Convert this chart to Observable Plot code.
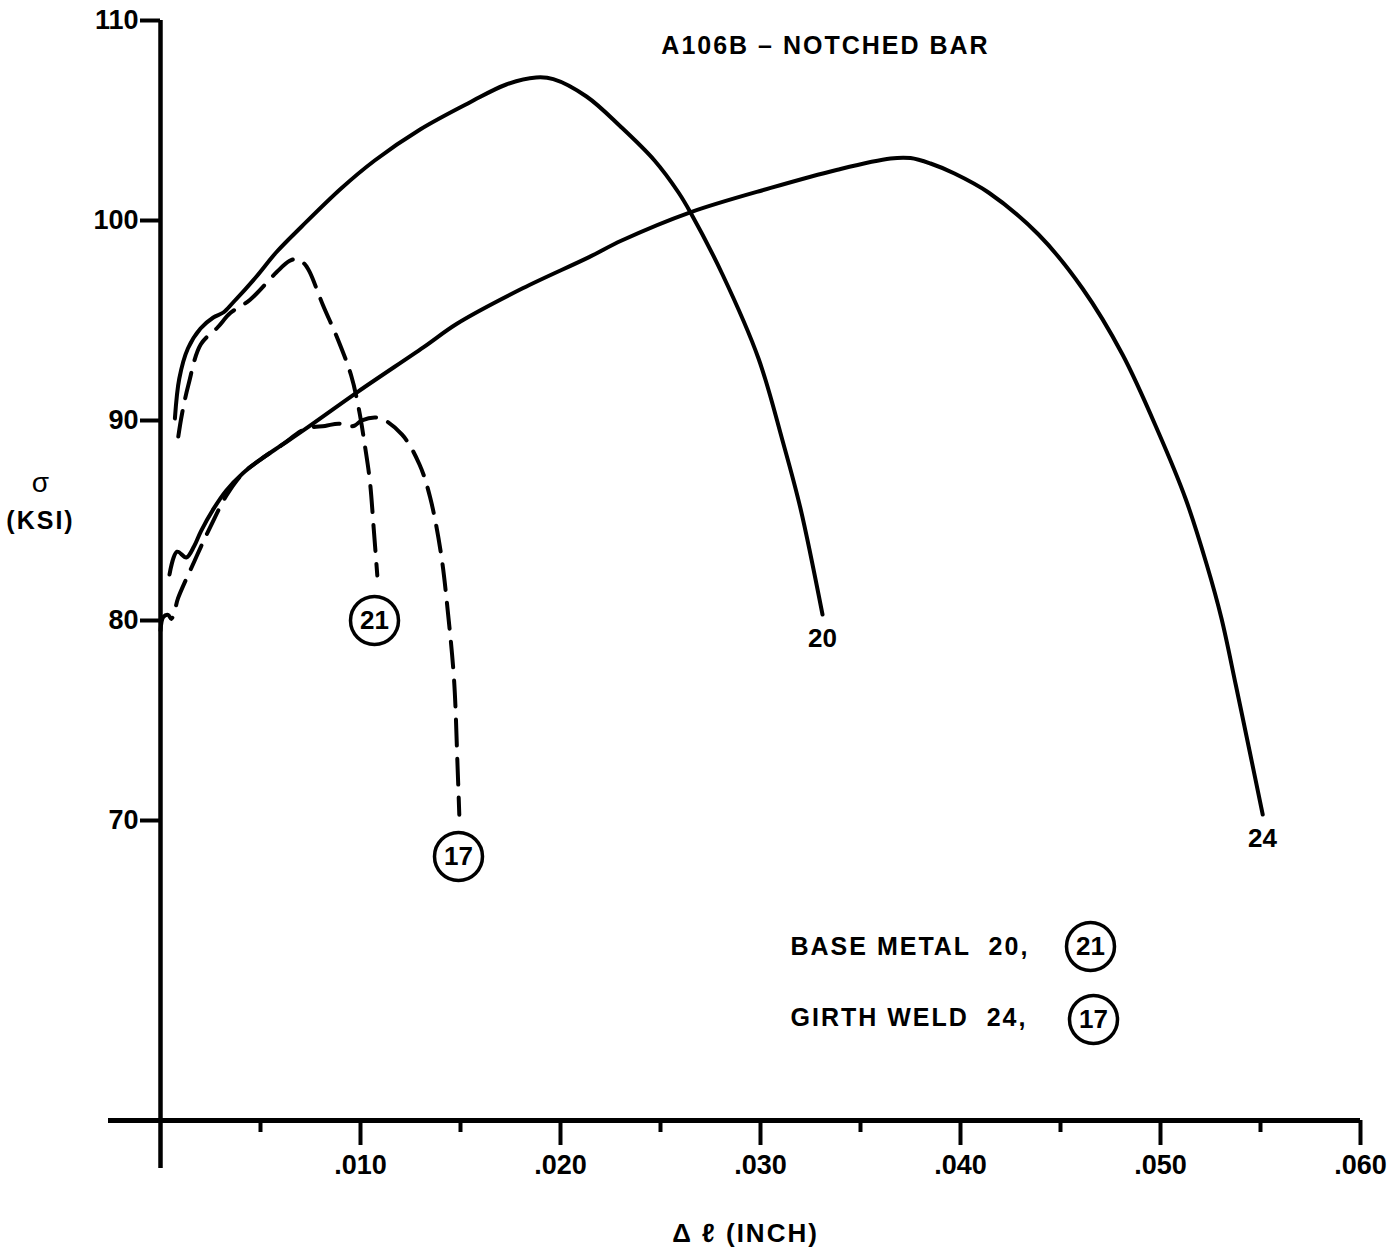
<!DOCTYPE html>
<html><head><meta charset="utf-8">
<script src="https://cdn.jsdelivr.net/npm/d3@7"></script>
<script src="https://cdn.jsdelivr.net/npm/@observablehq/plot@0.6"></script>
<style>body{margin:0;background:#fff}</style>
</head><body><div id="chart"></div>
<script>
// Δℓ (inch), σ (ksi) pairs
const base20 = [[0.00072,90.1],[0.00094,92.1],[0.00137,93.6],[0.0020,94.6],[0.00264,95.15],[0.00314,95.4],[0.00363,95.9],[0.0048,97.2],[0.00578,98.4],[0.00706,99.7],[0.00903,101.6],[0.01071,103.0],[0.01298,104.55],[0.01546,105.9],[0.01729,106.8],[0.01878,107.15],[0.01964,107.07],[0.0213,106.2],[0.0230,104.7],[0.0247,103.0],[0.0259,101.4],[0.0265,100.4],[0.0281,97.3],[0.0299,93.1],[0.0311,89.0],[0.0320,85.6],[0.0331,80.3]];
const base21 = [[0.00089,89.2],[0.00107,90.3],[0.0014,91.8],[0.00201,93.8],[0.00285,94.65],[0.00349,95.37],[0.00448,96.04],[0.0058,97.41],[0.00644,97.97],[0.00684,98.08],[0.00719,97.84],[0.00745,97.44],[0.00813,95.75],[0.00885,94.1],[0.00953,92.26],[0.00991,90.61],[0.01024,88.61],[0.01047,86.96],[0.01066,84.61],[0.01084,82.25]];
const weld24 = [[0.00045,82.3],[0.00083,83.44],[0.00129,83.15],[0.00168,83.71],[0.00202,84.46],[0.00265,85.58],[0.00328,86.49],[0.00412,87.36],[0.00496,88.02],[0.00609,88.79],[0.00723,89.57],[0.0099,91.46],[0.01316,93.67],[0.01484,94.85],[0.01811,96.61],[0.02143,98.17],[0.02306,99.0],[0.02649,100.41],[0.03051,101.63],[0.03385,102.54],[0.0365,103.1],[0.0375,103.12],[0.0385,102.85],[0.0397,102.35],[0.0414,101.4],[0.0439,99.3],[0.0461,96.6],[0.0481,93.3],[0.0499,89.4],[0.05125,86.1],[0.05231,82.8],[0.05305,80.1],[0.05376,76.8],[0.05446,73.45],[0.05511,70.3]];
const weld17 = [[0.0000,79.5],[0.00014,80.17],[0.00038,80.28],[0.00054,80.08],[0.00073,80.58],[0.00087,81.09],[0.0013,82.1],[0.00169,82.95],[0.00203,83.71],[0.00251,84.72],[0.00329,86.24],[0.00412,87.36],[0.00496,88.02],[0.00609,88.79],[0.00723,89.57],[0.00823,89.73],[0.00893,89.84],[0.00943,89.7],[0.00973,89.76],[0.01007,90.01],[0.01092,90.13],[0.01208,89.29],[0.01295,87.8],[0.01348,86.16],[0.01403,83.31],[0.01438,80.31],[0.01468,77.0],[0.01485,72.79],[0.01494,70.29]];

const yTicks = [70, 80, 90, 100, 110];
const xMajorTicks = [0.01, 0.02, 0.03, 0.04, 0.05, 0.06];
const xMinorTicks = [0.005, 0.015, 0.025, 0.035, 0.045, 0.055];

// curve end labels
const plainLabels = [{t:"20", x:0.0331, y:79.1}, {t:"24", x:0.0551, y:69.1}];
const circledLabels = [{t:"21", x:0.0107, y:80.0}, {t:"17", x:0.0149, y:68.2}, {t:"21", x:0.0465, y:63.7}, {t:"17", x:0.04665, y:60.05}];
const legendLines = [{t:"BASE METAL  20,", x:0.0315, y:63.7}, {t:"GIRTH WELD  24,", x:0.0315, y:60.15}];
const title = "A106B – NOTCHED BAR";

const F = "Liberation Sans, Arial, sans-serif";
const fmt = d => "." + String(Math.round(d * 1000)).padStart(3, "0");
const px = d => d[0], py = d => d[1];

const chart = Plot.plot({
  width: 1400, height: 1252,
  marginLeft: 160, marginRight: 40, marginTop: 20, marginBottom: 132,
  style: {fontFamily: F, color: "#000", background: "#fff"},
  x: {domain: [0, 0.06]},
  y: {domain: [55, 110]},
  marks: [
    Plot.ruleX([0], {y1: 52.6, y2: 110, strokeWidth: 4.5}),
    Plot.ruleY([55], {x1: -0.0026, x2: 0.06, strokeWidth: 5}),
    Plot.ruleY(yTicks, {x1: -0.001, x2: 0, strokeWidth: 4}),
    Plot.ruleX(xMajorTicks, {y1: 55, y2: 53.75, strokeWidth: 4}),
    Plot.ruleX(xMinorTicks, {y1: 55, y2: 54.4, strokeWidth: 4}),
    Plot.axisY(yTicks, {tickSize: 0, tickPadding: 22, fontSize: 27, fontWeight: "bold", label: null}),
    Plot.axisX(xMajorTicks, {tickSize: 0, tickPadding: 34, fontSize: 27, fontWeight: "bold", tickFormat: fmt, label: null}),
    Plot.line(base20, {x: px, y: py, strokeWidth: 4, curve: "catmull-rom"}),
    Plot.line(weld24, {x: px, y: py, strokeWidth: 4, curve: "catmull-rom"}),
    Plot.line(base21, {x: px, y: py, strokeWidth: 4, strokeDasharray: "26,13", curve: "catmull-rom"}),
    Plot.line(weld17, {x: px, y: py, strokeWidth: 4, strokeDasharray: "26,13", curve: "catmull-rom"}),
    Plot.text(plainLabels, {x: "x", y: "y", text: "t", fontSize: 26, fontWeight: "bold"}),
    Plot.dot(circledLabels, {x: "x", y: "y", r: 24, stroke: "#000", strokeWidth: 3.5, fill: "#fff"}),
    Plot.text(circledLabels, {x: "x", y: "y", text: "t", fontSize: 26, fontWeight: "bold"}),
    Plot.text(legendLines, {x: "x", y: "y", text: "t", fontSize: 25, fontWeight: "bold", textAnchor: "start"}),
    Plot.text([title], {x: 0.03325, y: 108.75, text: d => d, fontSize: 25, fontWeight: "bold"}),
    Plot.text(["σ"], {x: -0.006, y: 86.85, text: d => d, fontSize: 28}),
    Plot.text(["(KSI)"], {x: -0.006, y: 85.0, text: d => d, fontSize: 25, fontWeight: "bold"}),
    Plot.text(["Δ ℓ (INCH)"], {x: 0.02925, y: 49.35, text: d => d, fontSize: 26, fontWeight: "bold"})
  ]
});
document.getElementById("chart").appendChild(chart);
chart.querySelectorAll('g[aria-label="text"] text').forEach(t => {
  const s = t.textContent;
  if (s.length > 4) t.style.letterSpacing = "2px";
});
</script>
</body></html>
